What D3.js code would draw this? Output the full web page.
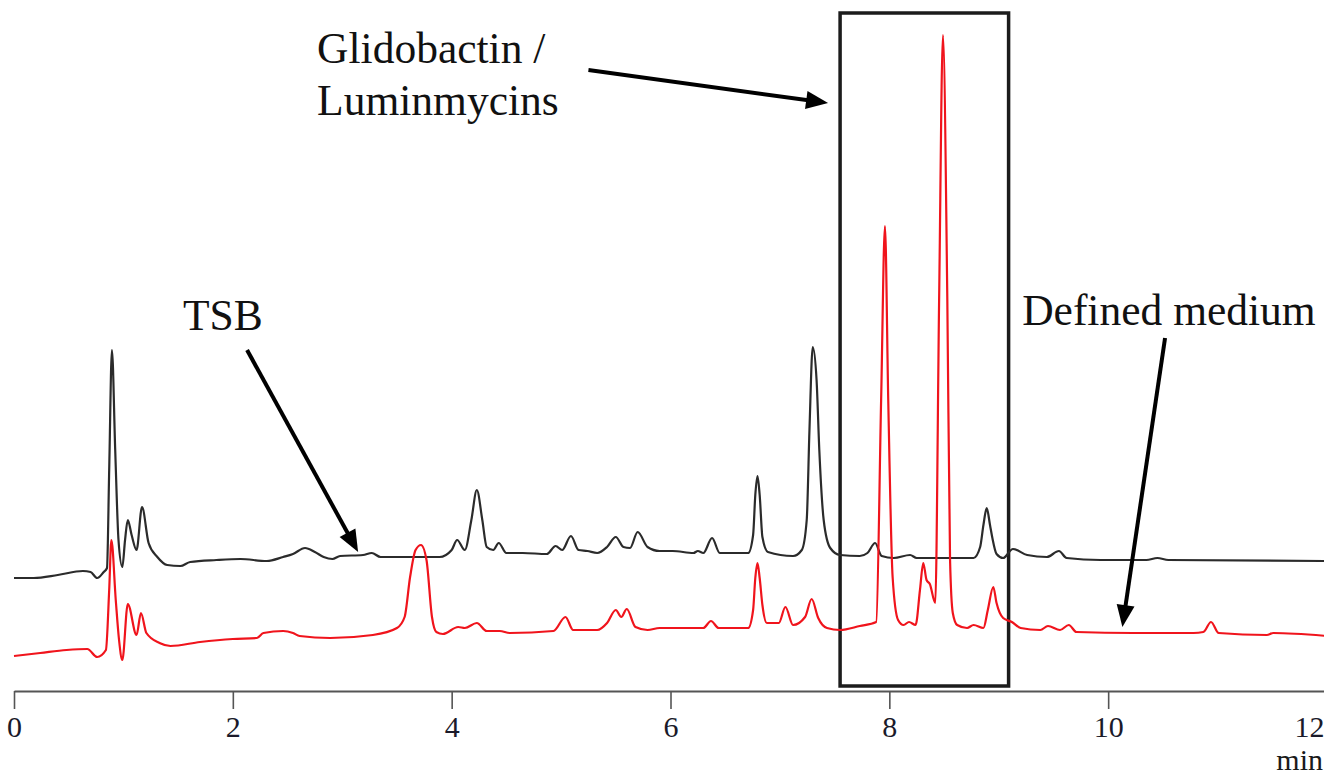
<!DOCTYPE html>
<html>
<head>
<meta charset="utf-8">
<script src="https://cdn.jsdelivr.net/npm/d3@7/dist/d3.min.js"></script>
<style>
  body { margin: 0; background: #fff; }
  svg { display: block; font-family: "Liberation Serif", "Times New Roman", serif; }
</style>
</head>
<body>
<div id="chart"></div>
<script>
/* DATA : retention time (min), detector response (arbitrary units) */
const tsbTrace = [
  [0.00,113],[0.18,113],[0.40,116],[0.63,120],[0.70,119],[0.76,113],[0.82,119],[0.85,123],
  [0.87,221],[0.895,341],[0.925,241],[0.955,151],[0.99,124],[1.015,151],[1.04,171],[1.075,156],
  [1.12,141],[1.17,184],[1.23,148],[1.31,134],[1.40,126],[1.52,125],[1.61,129],[1.85,131],
  [2.07,132],[2.31,130],[2.46,134],[2.55,137],[2.66,143],[2.75,139],[2.83,134],[2.91,132],
  [2.98,135],[3.19,136],[3.27,138],[3.35,134],[3.50,134],[3.89,134],[4.00,141],[4.05,151],
  [4.12,141],[4.18,171],[4.23,201],[4.28,171],[4.32,144],[4.38,141],[4.43,148],[4.50,138],
  [4.65,138],[4.87,137],[4.95,145],[5.01,141],[5.09,155],[5.16,141],[5.24,140],[5.33,138],
  [5.42,144],[5.50,154],[5.57,144],[5.63,143],[5.70,159],[5.79,144],[5.90,140],[6.02,140],
  [6.21,138],[6.25,140],[6.30,138],[6.38,153],[6.45,138],[6.71,138],[6.755,156],[6.775,196],
  [6.795,215],[6.815,196],[6.84,154],[6.89,139],[7.12,135],[7.20,141],[7.245,171],[7.27,261],
  [7.30,344],[7.335,311],[7.36,241],[7.40,171],[7.46,143],[7.55,136],[7.73,135],[7.80,138],
  [7.87,148],[7.93,135],[8.04,133],[8.19,136],[8.25,133],[8.77,133],[8.83,144],[8.86,166],
  [8.89,183],[8.92,166],[8.94,154],[8.98,137],[9.04,133],[9.13,142],[9.26,136],[9.44,134],
  [9.55,140],[9.62,133],[9.93,131],[10.35,131],[10.45,133],[10.55,131],[11.97,130],[12.00,130]
];

const definedTrace = [
  [0.00,35],[0.24,38],[0.48,41],[0.67,42],[0.76,34],[0.84,41],[0.87,101],[0.89,151],
  [0.93,91],[0.96,51],[0.99,31],[1.04,87],[1.12,56],[1.16,78],[1.21,58],[1.33,48],
  [1.43,45],[1.70,49],[2.00,52],[2.22,53],[2.28,58],[2.46,60],[2.55,58],[2.61,55],
  [2.89,53],[3.28,56],[3.50,63],[3.57,74],[3.62,114],[3.67,141],[3.72,146],[3.77,131],
  [3.82,74],[3.86,59],[3.92,57],[4.06,64],[4.12,63],[4.23,68],[4.32,60],[4.44,60],
  [4.53,58],[4.93,60],[5.04,74],[5.11,61],[5.33,61],[5.42,68],[5.50,81],[5.55,74],
  [5.60,82],[5.68,64],[5.79,61],[5.90,63],[6.30,63],[6.37,70],[6.44,63],[6.71,63],
  [6.755,81],[6.775,113],[6.795,128],[6.815,113],[6.84,86],[6.88,68],[6.99,68],[7.05,84],
  [7.12,66],[7.23,74],[7.29,92],[7.35,73],[7.43,63],[7.55,61],[7.73,65],[7.88,69],
  [7.925,291],[7.96,465],[7.99,291],[8.03,114],[8.08,71],[8.13,66],[8.18,69],[8.24,66],
  [8.28,101],[8.31,128],[8.34,111],[8.37,107],[8.42,88],[8.455,391],[8.49,656],[8.53,391],
  [8.555,131],[8.58,78],[8.62,66],[8.71,63],[8.77,66],[8.86,63],[8.90,81],[8.95,104],
  [8.98,88],[9.04,73],[9.12,69],[9.20,63],[9.38,61],[9.45,65],[9.56,61],[9.64,66],
  [9.71,59],[10.23,58],[10.78,58],[10.87,59],[10.94,69],[11.01,58],[11.45,56],[11.51,58],
  [12.00,55]
];

const timeTicks = [0, 2, 4, 6, 8, 10, 12];
const axisUnit = "min";
const highlightWindow = [7.55, 9.09];   // boxed retention-time window

/* CONFIGURATION */
const config = {
    width: 1324,
    height: 779,
    xRange: [14, 1327],
    yBase: 691,
    font: '"Liberation Serif", "Times New Roman", serif'
};

// annotations in data coordinates [time, response]
const notes = [
    { lines: ["Glidobactin /", "Luminmycins"], at: [2.77, 628], from: [5.25, 621], to: [7.44, 588] },
    { lines: ["TSB"], at: [1.545, 361], from: [2.13, 341], to: [3.145, 139] },
    { lines: ["Defined medium"], at: [9.214, 366], from: [10.52, 353], to: [10.13, 64] }
];

const svg = d3.select("#chart")
    .append("svg")
    .attr("width", config.width)
    .attr("height", config.height);

const x = d3.scaleLinear().domain([0, 12]).range(config.xRange);
const y = d3.scaleLinear().domain([0, config.yBase]).range([config.yBase, 0]);

const line = d3.line()
    .x(d => x(d[0]))
    .y(d => y(d[1]))
    .curve(d3.curveMonotoneX);

// highlight box
svg.append("rect")
    .attr("x", x(highlightWindow[0]))
    .attr("y", y(678))
    .attr("width", x(highlightWindow[1]) - x(highlightWindow[0]))
    .attr("height", y(5) - y(678))
    .attr("fill", "none")
    .attr("stroke", "#1c1c1c")
    .attr("stroke-width", 3.5);

// traces
svg.append("path")
    .datum(tsbTrace)
    .attr("d", line)
    .attr("fill", "none")
    .attr("stroke", "#2b2b2b")
    .attr("stroke-width", 2.2);

svg.append("path")
    .datum(definedTrace)
    .attr("d", line)
    .attr("fill", "none")
    .attr("stroke", "#f0141c")
    .attr("stroke-width", 2.2);

// time axis
const axis = svg.append("g")
    .attr("transform", `translate(0,${y(0)})`)
    .call(d3.axisBottom(x)
        .tickValues(timeTicks)
        .tickSize(18)
        .tickSizeOuter(0)
        .tickPadding(7)
        .tickFormat(d3.format("d")));

axis.select(".domain").attr("stroke", "#555").attr("stroke-width", 2);
axis.selectAll(".tick line").attr("stroke", "#555").attr("stroke-width", 1.6);
axis.selectAll(".tick text")
    .style("font-family", config.font)
    .style("font-size", "30px")
    .attr("fill", "#1a1a2a");
axis.selectAll(".tick text")
    .filter(d => d === 12)
    .attr("text-anchor", "end")
    .attr("x", -3);

axis.append("text")
    .attr("x", x(12) - 4)
    .attr("y", 79)
    .attr("text-anchor", "end")
    .attr("fill", "#1a1a1a")
    .style("font-family", config.font)
    .style("font-size", "30px")
    .text(axisUnit);

// annotations
notes.forEach(n => {
    const t = svg.append("text")
        .attr("x", x(n.at[0]))
        .attr("y", y(n.at[1]))
        .attr("fill", "#111")
        .style("font-family", config.font)
        .style("font-size", "43.5px");
    n.lines.forEach((s, i) => {
        t.append("tspan")
            .attr("x", x(n.at[0]))
            .attr("dy", i === 0 ? 0 : 52)
            .text(s);
    });

    const x0 = x(n.from[0]), y0 = y(n.from[1]);
    const x1 = x(n.to[0]),   y1 = y(n.to[1]);
    const len = Math.hypot(x1 - x0, y1 - y0);
    const ux = (x1 - x0) / len, uy = (y1 - y0) / len;
    const head = 22, half = 9;
    const bx = x1 - ux * head, by = y1 - uy * head;

    svg.append("line")
        .attr("x1", x0).attr("y1", y0)
        .attr("x2", bx + ux * 2).attr("y2", by + uy * 2)
        .attr("stroke", "#000")
        .attr("stroke-width", 4);

    svg.append("path")
        .attr("d", `M${x1},${y1}L${bx - uy * half},${by + ux * half}L${bx + uy * half},${by - ux * half}Z`)
        .attr("fill", "#000");
});
</script>
</body>
</html>
